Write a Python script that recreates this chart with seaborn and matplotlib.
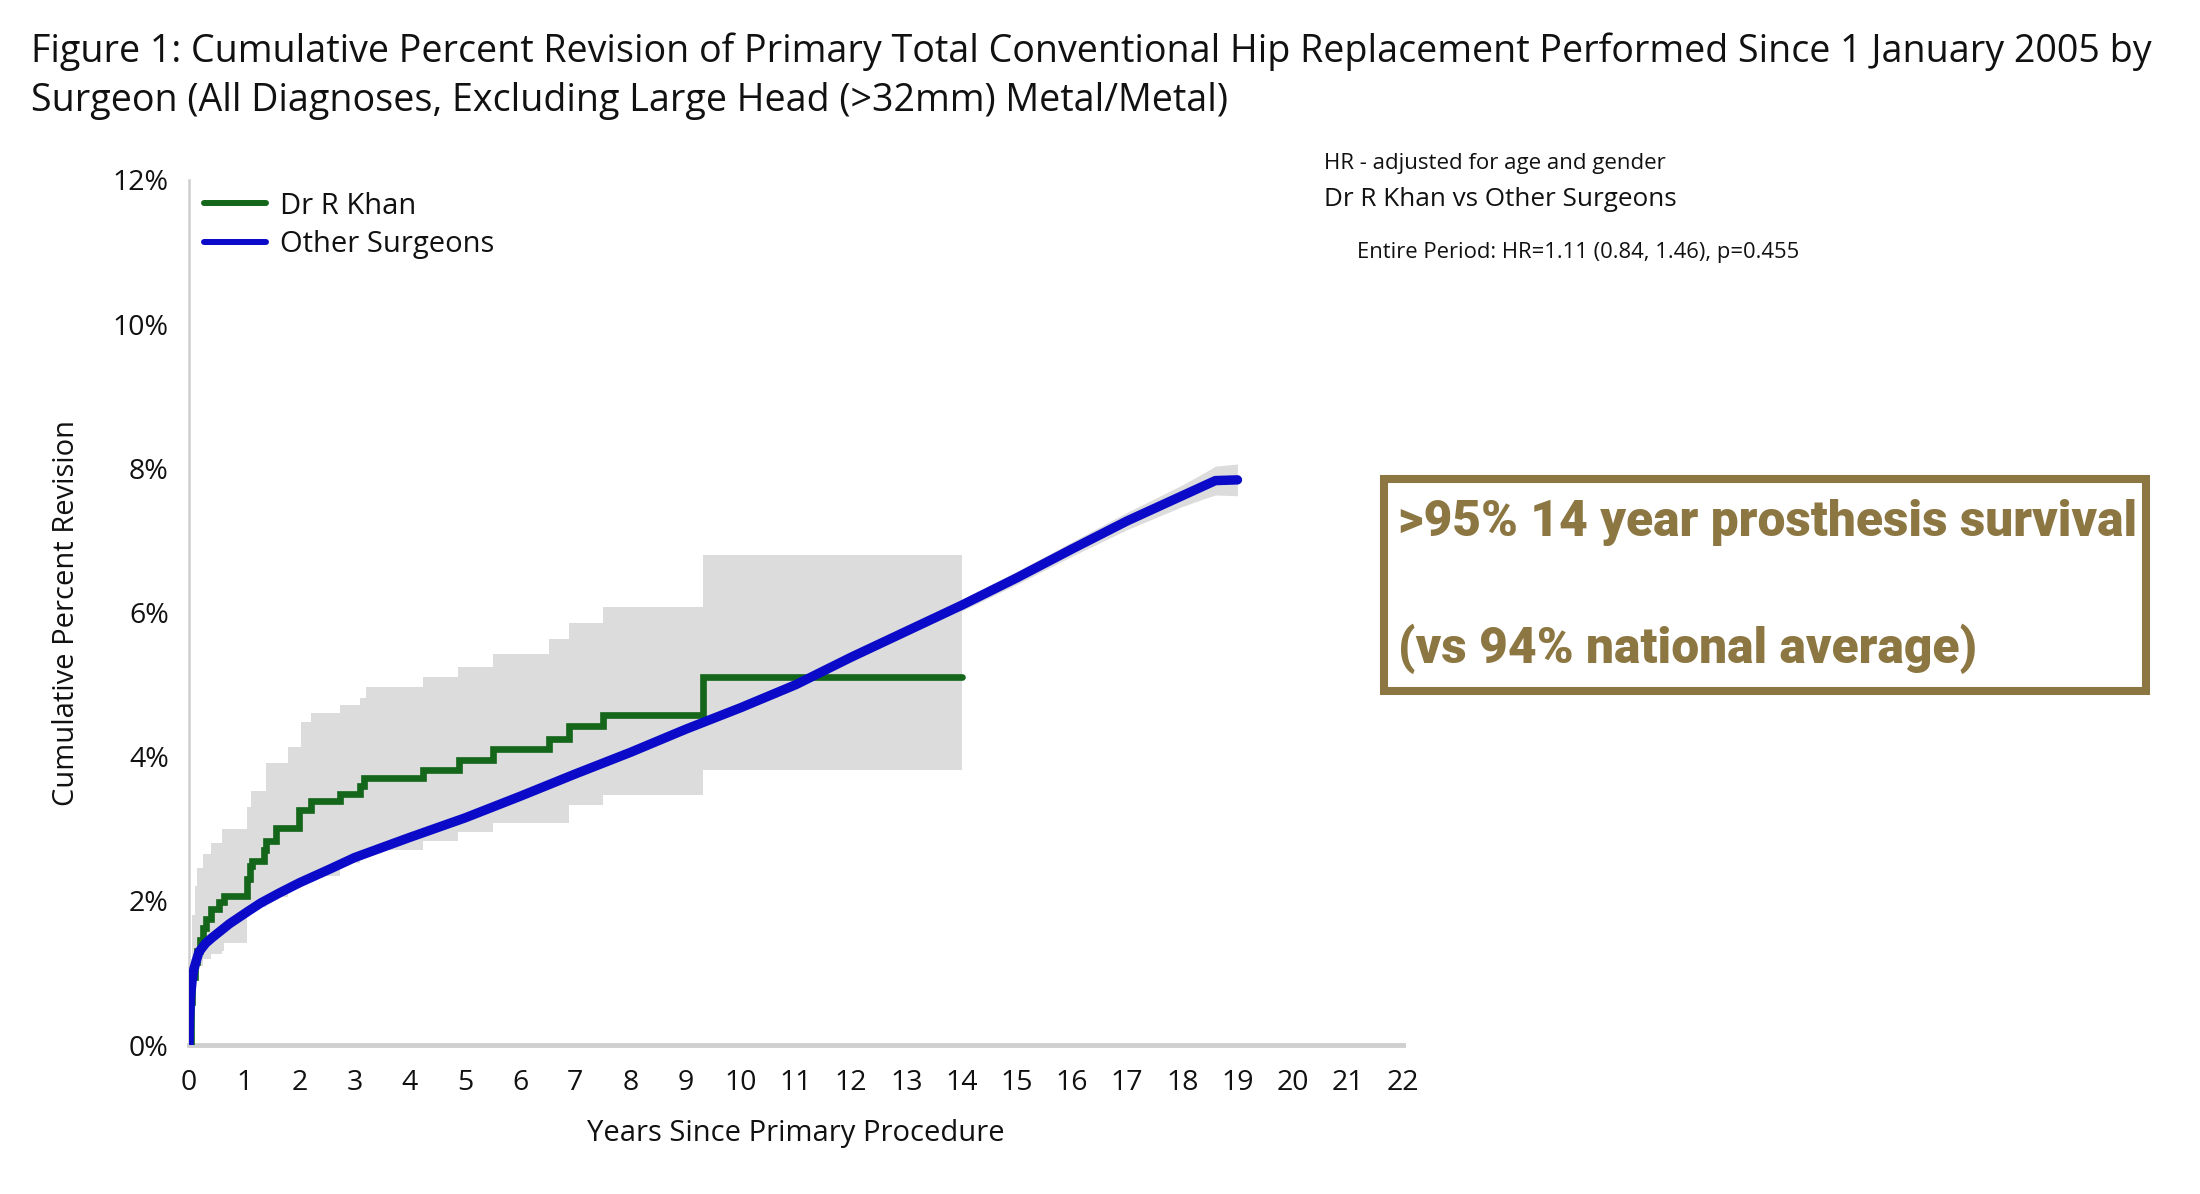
import matplotlib
matplotlib.use("Agg")
import matplotlib.pyplot as plt
import matplotlib.patches as mpatches
from matplotlib.lines import Line2D
from matplotlib.ticker import FuncFormatter
import seaborn as sns
import pandas as pd

# ---------------- data ----------------
title_lines = [
    "Figure 1: Cumulative Percent Revision of Primary Total Conventional Hip Replacement Performed Since 1 January 2005 by",
    "Surgeon (All Diagnoses, Excluding Large Head (>32mm) Metal/Metal)",
]
series_names = ["Dr R Khan", "Other Surgeons"]

# Dr R Khan: Kaplan-Meier style step curve (years, cumulative % revision)
khan_t = [0, 0.03, 0.06, 0.10, 0.15, 0.20, 0.25, 0.30, 0.39, 0.55, 0.64, 1.06, 1.10, 1.15,
          1.36, 1.40, 1.58, 2.00, 2.21, 2.73, 3.09, 3.18, 4.24, 4.90, 5.50, 6.53, 6.88,
          7.50, 9.31, 14.0]
khan_cpr = [0, 0.60, 0.95, 1.15, 1.30, 1.45, 1.62, 1.75, 1.89, 1.98, 2.07, 2.30, 2.48, 2.55,
            2.70, 2.83, 3.01, 3.26, 3.38, 3.48, 3.59, 3.70, 3.82, 3.95, 4.10, 4.24, 4.42,
            4.58, 5.10, 5.10]

# Dr R Khan 95% CI (step band)
khan_ci_t = [0, 0.03, 0.06, 0.10, 0.15, 0.20, 0.25, 0.39, 0.60, 0.64, 1.06, 1.12, 1.39, 1.79,
             2.03, 2.21, 2.73, 3.09, 3.21, 4.24, 4.88, 5.50, 6.53, 6.88, 7.50, 9.31, 14.0]
khan_ci_hi = [0, 1.20, 1.80, 2.20, 2.45, 2.45, 2.65, 2.80, 3.00, 3.00, 3.30, 3.52, 3.91, 4.14,
              4.48, 4.60, 4.72, 4.82, 4.97, 5.10, 5.25, 5.43, 5.63, 5.85, 6.07, 6.80, 6.80]
khan_ci_lo = [0, 0.45, 0.80, 0.95, 1.05, 1.10, 1.20, 1.26, 1.30, 1.42, 1.88, 1.92, 2.05, 2.18,
              2.30, 2.35, 2.52, 2.60, 2.70, 2.83, 2.95, 3.08, 3.08, 3.33, 3.47, 3.82, 3.82]

# Other Surgeons
other_t = [0, 0.01, 0.03, 0.06, 0.09, 0.18, 0.30, 0.42, 0.60, 0.73, 1.06, 1.30, 1.64, 2.0,
           2.55, 3.0, 3.5, 4, 5, 6, 7, 8, 9, 10, 11, 12, 13, 14, 15, 16, 17, 18, 18.4,
           18.6, 19.0]
other_cpr = [0, 0.35, 0.69, 0.92, 1.06, 1.29, 1.41, 1.49, 1.60, 1.68, 1.85, 1.97, 2.11, 2.25,
             2.44, 2.60, 2.74, 2.88, 3.15, 3.45, 3.76, 4.06, 4.38, 4.68, 5.00, 5.38, 5.74,
             6.10, 6.48, 6.88, 7.27, 7.62, 7.76, 7.83, 7.84]
other_ci_lo = [0, 0.32, 0.65, 0.88, 1.01, 1.24, 1.36, 1.44, 1.55, 1.63, 1.80, 1.92, 2.06, 2.20,
               2.39, 2.55, 2.69, 2.83, 3.10, 3.40, 3.70, 4.00, 4.32, 4.61, 4.93, 5.31, 5.66,
               6.02, 6.39, 6.78, 7.15, 7.47, 7.58, 7.63, 7.62]
other_ci_hi = [0, 0.38, 0.73, 0.96, 1.11, 1.34, 1.46, 1.54, 1.65, 1.73, 1.90, 2.02, 2.16, 2.30,
               2.49, 2.65, 2.79, 2.93, 3.20, 3.50, 3.82, 4.12, 4.44, 4.75, 5.07, 5.45, 5.82,
               6.18, 6.57, 6.98, 7.39, 7.77, 7.94, 8.03, 8.06]

x_ticks = list(range(0, 23))
y_ticks = [0, 2, 4, 6, 8, 10, 12]

hr_lines = ["HR - adjusted for age and gender",
            "Dr R Khan vs Other Surgeons",
            "Entire Period: HR=1.11 (0.84, 1.46), p=0.455"]
box_lines = [">95% 14 year prosthesis survival", "(vs 94% national average)"]

# ---------------- style ----------------
GREEN = "#13661a"
BLUE = "#0a0ac8"
BAND = "#dcdcdc"
GOLD = "#8c7641"
AXIS = "#cfcfcf"
TXT = "#111111"

sns.set_theme(style="white")
plt.rcParams["font.family"] = ["Open Sans", "DejaVu Sans"]

W, H = 2200, 1194
fig = plt.figure(figsize=(W / 100, H / 100), dpi=100)
L, R, B, T = 189, 1403, 1045, 180
ax = fig.add_axes([L / W, 1 - B / H, (R - L) / W, (B - T) / H])

df_khan = pd.DataFrame({"t": khan_t, "cpr": khan_cpr})
df_other = pd.DataFrame({"t": other_t, "cpr": other_cpr})

# bands
ax.fill_between(khan_ci_t, khan_ci_lo, khan_ci_hi, step="post", color=BAND, lw=0, zorder=1)
ax.fill_between(other_t, other_ci_lo, other_ci_hi, color=BAND, lw=0, zorder=1)

sns.lineplot(data=df_khan, x="t", y="cpr", ax=ax, color=GREEN, lw=4.8,
             drawstyle="steps-post", estimator=None, sort=False, zorder=3,
             solid_capstyle="round", solid_joinstyle="miter")
sns.lineplot(data=df_other, x="t", y="cpr", ax=ax, color=BLUE, lw=6.8,
             estimator=None, sort=False, zorder=4, solid_capstyle="round")

ax.set_xlim(0, 22)
ax.set_ylim(0, 12)
ax.set_xticks(x_ticks)
ax.set_yticks(y_ticks)
ax.yaxis.set_major_formatter(FuncFormatter(lambda v, p: f"{v:.0f}%"))

for s in ["top", "right"]:
    ax.spines[s].set_visible(False)
ax.spines["left"].set_color(AXIS)
ax.spines["left"].set_linewidth(1.8)
ax.spines["bottom"].set_color(AXIS)
ax.spines["bottom"].set_linewidth(3.5)
ax.spines["left"].set_zorder(0)
ax.tick_params(axis="both", which="major", direction="out", color=AXIS,
               labelcolor=TXT, labelsize=20.5)
ax.tick_params(axis="y", length=4.5, width=1.2, pad=10)
ax.tick_params(axis="x", length=4.5, width=1.2, pad=13)
ax.set_facecolor("white")

ax.set_xlabel("Years Since Primary Procedure", fontsize=21, color=TXT)
ax.set_ylabel("Cumulative Percent Revision", fontsize=21, color=TXT)
ax.xaxis.set_label_coords(0.5, (B - 1134) / (B - T))
ax.xaxis.label.set_va("center")
ax.yaxis.set_label_coords((67 - L) / (R - L), 0.5)
ax.yaxis.label.set_va("center")

handles = [Line2D([], [], color=GREEN, lw=4.3), Line2D([], [], color=BLUE, lw=4.3)]
leg = ax.legend(handles, series_names, loc="upper left", bbox_to_anchor=(0.003, 1.0),
                frameon=False, fontsize=21, handlelength=2.1, handletextpad=0.5,
                labelspacing=0.32, borderaxespad=0.2, borderpad=0.2)
for t in leg.get_texts():
    t.set_color(TXT)

# title
fig.text(31 / W, 1 - 62 / H, title_lines[0], fontsize=27.1, color=TXT, ha="left", va="baseline")
fig.text(31 / W, 1 - 111 / H, title_lines[1], fontsize=27.1, color=TXT, ha="left", va="baseline")

# HR texts
fig.text(1324 / W, 1 - 163 / H, hr_lines[0], fontsize=16, color=TXT, ha="left", va="center")
fig.text(1324 / W, 1 - 199 / H, hr_lines[1], fontsize=18.8, color=TXT, ha="left", va="center")
fig.text(1357 / W, 1 - 253 / H, hr_lines[2], fontsize=15.8, color=TXT, ha="left", va="center")

# highlight box
rect = mpatches.Rectangle((1384 / W, 1 - 691 / H), (2146 - 1384) / W, (691 - 479) / H,
                          transform=fig.transFigure, fill=False, edgecolor=GOLD,
                          lw=5.8, joinstyle="miter")
fig.patches.append(rect)
bt1 = fig.text(1398 / W, 1 - 536 / H, box_lines[0], fontsize=30, color=GOLD, fontweight="black",
               family=["Roboto", "DejaVu Sans"], ha="left", va="baseline")
bt2 = fig.text(1398 / W, 1 - 663 / H, box_lines[1], fontsize=30, color=GOLD, fontweight="black",
               family=["Roboto", "DejaVu Sans"], ha="left", va="baseline")

# fit box text width to the reference line width (737 px)
fig.canvas.draw()
rend = fig.canvas.get_renderer()
w1 = bt1.get_window_extent(rend).width
fs = 30 * 737 / w1
bt1.set_fontsize(fs)
bt2.set_fontsize(fs)

fig.savefig("out.png", dpi=100, facecolor="white")
